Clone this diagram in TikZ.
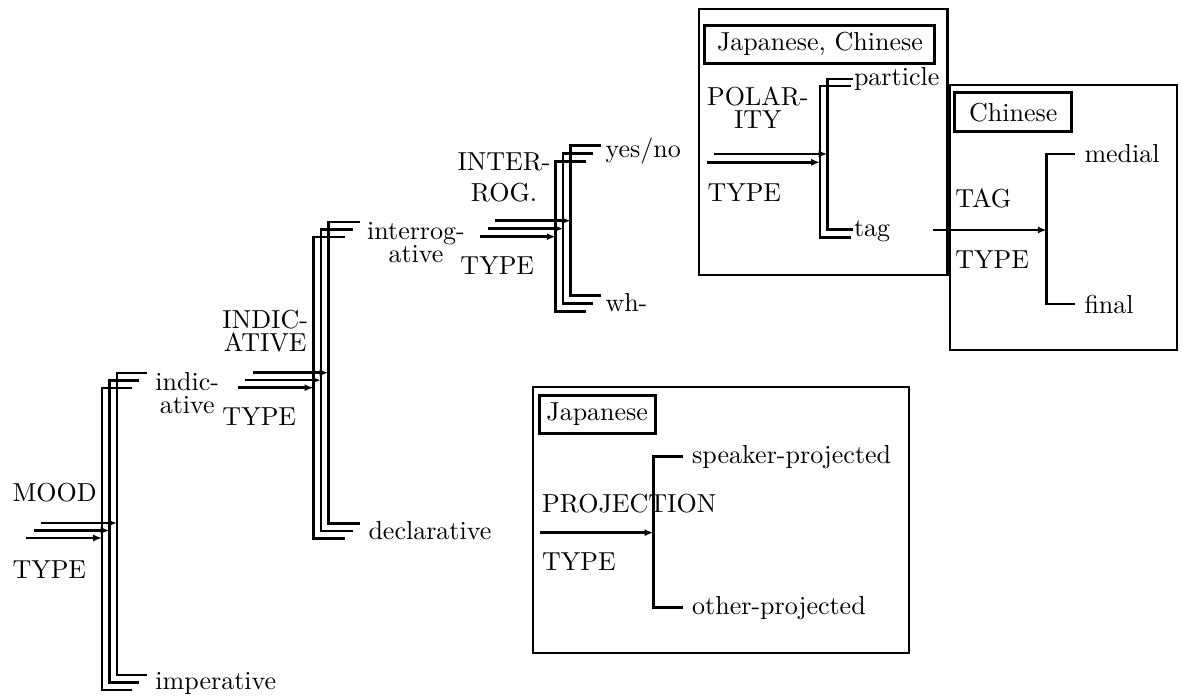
\documentclass[tikz,border=0pt]{standalone}
\usepackage{amsmath}
\usepackage{tikz}
\usetikzlibrary{arrows.meta}
\tikzset{
  lbl/.style={inner sep=0pt, anchor=west, align=center, font=\fontsize{10.4}{12.5}\selectfont},
  langbox/.style={draw, line width=1.2pt, inner sep=0pt, font=\fontsize{10.4}{12.5}\selectfont},
  area/.style={draw, line width=0.9pt},
  bar/.style={line width=1pt},
  entry/.style={line width=1pt, -{Latex[length=3.5pt,width=2.8pt]}}
}
% start x, entry y, bar x, top y, bottom y, end x
\newcommand{\sysnet}[6]{%
  \coordinate (from) at (#1,#2);
  \coordinate (into) at (#3,#2);
  \coordinate (up) at (#6,#4);
  \coordinate (corner) at (#3,#5);
  \coordinate (down) at (#6,#5);
  \draw[entry] (from) -- (into);
  \draw[bar] (up) -| (corner) -- (down);
}

\begin{document}
\begin{tikzpicture}[scale=1]

\useasboundingbox (0,0) rectangle (16.632,-9.813);

\node[lbl] (mood) at (0.169,-6.931) {MOOD};
\node[lbl] (moodtype) at (0.169,-8.014) {TYPE};
\node[lbl] (indic) at (2.179,-5.525) {indic-\\[-3.2pt]ative};
\node[lbl] (imper) at (2.179,-9.616) {imperative};

\sysnet{0.576}{-7.353}{1.645}{-5.244}{-9.490}{2.067}
\sysnet{0.471}{-7.458}{1.539}{-5.349}{-9.595}{1.961}
\sysnet{0.366}{-7.564}{1.434}{-5.455}{-9.701}{1.856}

\node[lbl] (indiclbl) at (3.121,-4.654) {INDIC-\\[-3.2pt]ATIVE};
\node[lbl] (indictype) at (3.121,-5.863) {TYPE};
\node[lbl] (interrog) at (5.155,-3.407) {interrog-\\[-3.2pt]ative};
\node[lbl] (decl) at (5.174,-7.465) {declarative};

\sysnet{3.557}{-5.240}{4.616}{-3.121}{-7.357}{5.061}
\sysnet{3.451}{-5.345}{4.510}{-3.227}{-7.462}{4.956}
\sysnet{3.346}{-5.451}{4.405}{-3.332}{-7.568}{4.850}

\node[lbl] (interlbl) at (6.425,-2.495) {INTER-\\ROG.};
\node[lbl] (intertype) at (6.467,-3.740) {TYPE};
\node[lbl] (yesno) at (8.506,-2.120) {yes/no};
\node[lbl] (wh) at (8.506,-4.260) {wh-};

\sysnet{6.959}{-3.103}{8.023}{-2.048}{-4.157}{8.445}
\sysnet{6.854}{-3.215}{7.918}{-2.161}{-4.270}{8.340}
\sysnet{6.748}{-3.328}{7.812}{-2.273}{-4.382}{8.234}

\draw[area] (9.831,-0.131) rectangle (13.321,-3.866);
\node[langbox, minimum width=3.234cm, minimum height=0.538cm] (jcbox) at (11.528,-0.621) {Japanese, Chinese};
\node[lbl] (polar) at (9.935,-1.511) {POLAR-\\[-3.2pt]ITY};
\node[lbl] (polartype) at (9.940,-2.713) {TYPE};
\node[lbl] (particle) at (12.000,-1.111) {particle};
\node[lbl] (tag) at (12.000,-3.250) {tag};

\sysnet{10.038}{-2.165}{11.631}{-1.111}{-3.224}{11.996}
\sysnet{9.935}{-2.282}{11.528}{-1.209}{-3.336}{11.964}

\draw[area] (13.353,-1.195) rectangle (16.543,-4.921);
\node[langbox, minimum width=1.641cm, minimum height=0.548cm] (chbox) at (14.246,-1.577) {Chinese};
\node[lbl] (taglbl) at (13.426,-2.784) {TAG};
\node[lbl] (tagtype) at (13.426,-3.655) {TYPE};
\node[lbl] (medial) at (15.240,-2.165) {medial};
\node[lbl] (final) at (15.240,-4.274) {final};

\sysnet{13.117}{-3.234}{14.715}{-2.165}{-4.274}{15.113}

\draw[area] (7.489,-5.437) rectangle (12.784,-9.180);
\node[langbox, minimum width=1.627cm, minimum height=0.538cm] (jabox) at (8.396,-5.823) {Japanese};
\node[lbl] (proj) at (7.616,-7.076) {PROJECTION};
\node[lbl] (projtype) at (7.616,-7.897) {TYPE};
\node[lbl] (speaker) at (9.725,-6.421) {speaker-projected};
\node[lbl] (other) at (9.725,-8.544) {other-projected};

\sysnet{7.592}{-7.489}{9.185}{-6.421}{-8.544}{9.607}

\end{tikzpicture}
\end{document}
